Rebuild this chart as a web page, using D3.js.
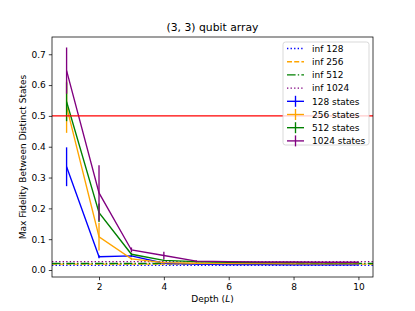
<!DOCTYPE html>
<html>
<head>
<meta charset="utf-8">
<script src="https://cdn.jsdelivr.net/npm/d3@7"></script>
<style>
  body { margin: 0; background: #fff; }
  text { font-family: "DejaVu Sans", sans-serif; }
</style>
</head>
<body>
<script>
// depths on the x axis
const depths = [1, 2, 3, 4, 5, 6, 7, 8, 9, 10];

// mean max fidelity per depth, one array per state count
const states128 = [0.335, 0.043, 0.046, 0.022, 0.019, 0.018, 0.018, 0.017, 0.017, 0.017];
const states256 = [0.530, 0.108, 0.036, 0.024, 0.022, 0.021, 0.021, 0.020, 0.020, 0.020];
const states512 = [0.546, 0.186, 0.051, 0.031, 0.027, 0.025, 0.024, 0.024, 0.023, 0.023];
const states1024 = [0.647, 0.250, 0.065, 0.047, 0.029, 0.027, 0.026, 0.026, 0.025, 0.025];

// error bar half widths
const err128 = [0.063, 0.005, 0.003, 0.002, 0.002, 0.001, 0.001, 0.001, 0.001, 0.001];
const err256 = [0.085, 0.045, 0.004, 0.003, 0.002, 0.001, 0.001, 0.001, 0.001, 0.001];
const err512 = [0.063, 0.030, 0.004, 0.003, 0.002, 0.001, 0.001, 0.001, 0.001, 0.001];
const err1024 = [0.075, 0.090, 0.008, 0.012, 0.003, 0.002, 0.001, 0.001, 0.001, 0.001];

// infinite-depth reference levels
const infLabels = ["inf 128", "inf 256", "inf 512", "inf 1024"];
const infValues = [0.015, 0.019, 0.021, 0.027];

const seriesLabels = ["128 states", "256 states", "512 states", "1024 states"];
const threshold = 0.5;

const xTicks = [2, 4, 6, 8, 10];
const yTicks = [0.0, 0.1, 0.2, 0.3, 0.4, 0.5, 0.6, 0.7];

const colors = ["blue", "orange", "green", "purple"];
const dashes = ["1.35,2.2", "5,2.2", "8.6,2.2,1.35,2.2", "1.35,2.2"];

const width = 415;
const height = 311;
const margin = { left: 52, right: 42, top: 37, bottom: 34 };

const x = d3.scaleLinear()
  .domain([0.55, 10.45])
  .range([margin.left, width - margin.right]);

const y = d3.scaleLinear()
  .domain([-0.0227, 0.756])
  .range([height - margin.bottom, margin.top]);

const svg = d3.select("body").append("svg")
  .attr("width", width)
  .attr("height", height);

const plot = svg.append("g");
plot.append("clipPath").attr("id", "clip")
  .append("rect")
  .attr("x", margin.left).attr("y", margin.top)
  .attr("width", width - margin.left - margin.right)
  .attr("height", height - margin.top - margin.bottom);

const inner = plot.append("g").attr("clip-path", "url(#clip)");

// inf lines
inner.selectAll("line.inf")
  .data(infValues)
  .enter()
  .append("line")
  .attr("class", "inf")
  .attr("x1", x(0.55)).attr("x2", x(10.45))
  .attr("y1", d => y(d)).attr("y2", d => y(d))
  .attr("stroke", (d, i) => colors[i])
  .attr("stroke-width", 1.35)
  .attr("stroke-dasharray", (d, i) => dashes[i]);

// series with error bars
const allSeries = [states128, states256, states512, states1024];
const allErr = [err128, err256, err512, err1024];

const line = d3.line()
  .x((d, i) => x(depths[i]))
  .y(d => y(d));

allSeries.forEach(function (vals, s) {
  const g = inner.append("g");
  g.append("path")
    .datum(vals)
    .attr("d", line)
    .attr("fill", "none")
    .attr("stroke", colors[s])
    .attr("stroke-width", 1.35);
  g.selectAll("line")
    .data(vals)
    .enter()
    .append("line")
    .attr("x1", (d, i) => x(depths[i]))
    .attr("x2", (d, i) => x(depths[i]))
    .attr("y1", (d, i) => y(d - allErr[s][i]))
    .attr("y2", (d, i) => y(d + allErr[s][i]))
    .attr("stroke", colors[s])
    .attr("stroke-width", 1.35);
});

// threshold line
inner.append("line")
  .attr("x1", x(0.55)).attr("x2", x(10.45))
  .attr("y1", y(threshold)).attr("y2", y(threshold))
  .attr("stroke", "red")
  .attr("stroke-width", 1.35);

// axes
const xAxis = svg.append("g")
  .attr("transform", "translate(0," + (height - margin.bottom) + ")")
  .call(d3.axisBottom(x).tickValues(xTicks).tickSize(3.2).tickPadding(3).tickFormat(d3.format("d")));
const yAxis = svg.append("g")
  .attr("transform", "translate(" + margin.left + ",0)")
  .call(d3.axisLeft(y).tickValues(yTicks).tickSize(3.2).tickPadding(3).tickFormat(d3.format(".1f")));

[xAxis, yAxis].forEach(function (a) {
  a.select(".domain").remove();
  a.selectAll("text").attr("font-size", 9).attr("fill", "#000")
    .style("font-family", "DejaVu Sans, sans-serif");
  a.selectAll("line").attr("stroke", "#000").attr("stroke-width", 0.75);
});

svg.append("rect")
  .attr("x", margin.left).attr("y", margin.top)
  .attr("width", width - margin.left - margin.right)
  .attr("height", height - margin.top - margin.bottom)
  .attr("fill", "none")
  .attr("stroke", "#000")
  .attr("stroke-width", 0.75);

// title and labels
svg.append("text")
  .attr("x", (margin.left + width - margin.right) / 2)
  .attr("y", 31)
  .attr("text-anchor", "middle")
  .attr("font-size", 10.8)
  .text("(3, 3) qubit array");

const xl = svg.append("text")
  .attr("x", (margin.left + width - margin.right) / 2)
  .attr("y", 302)
  .attr("text-anchor", "middle")
  .attr("font-size", 9);
xl.append("tspan").text("Depth (");
xl.append("tspan").attr("font-style", "italic").text("L");
xl.append("tspan").text(")");

svg.append("text")
  .attr("transform", "translate(26," + ((margin.top + height - margin.bottom) / 2) + ") rotate(-90)")
  .attr("text-anchor", "middle")
  .attr("font-size", 9)
  .text("Max Fidelity Between Distinct States");

// legend
const lg = svg.append("g").attr("transform", "translate(283,42)");
lg.append("rect")
  .attr("width", 86).attr("height", 103)
  .attr("rx", 2.5)
  .attr("fill", "#fff").attr("fill-opacity", 0.8)
  .attr("stroke", "#ccc").attr("stroke-width", 0.75);

const entries = infLabels.map((t, i) => ({ label: t, kind: "inf", i: i }))
  .concat(seriesLabels.map((t, i) => ({ label: t, kind: "series", i: i })));

const rows = lg.selectAll("g.row")
  .data(entries)
  .enter()
  .append("g")
  .attr("class", "row")
  .attr("transform", (d, k) => "translate(0," + (6.5 + k * 13.2) + ")");

rows.append("line")
  .attr("x1", 4).attr("x2", 21)
  .attr("y1", 0).attr("y2", 0)
  .attr("stroke", d => colors[d.i])
  .attr("stroke-width", 1.35)
  .attr("stroke-dasharray", d => d.kind === "inf" ? dashes[d.i] : null);

rows.filter(d => d.kind === "series")
  .append("line")
  .attr("x1", 12.5).attr("x2", 12.5)
  .attr("y1", -5.5).attr("y2", 5.5)
  .attr("stroke", d => colors[d.i])
  .attr("stroke-width", 1.35);

rows.append("text")
  .attr("x", 29).attr("y", 3.2)
  .attr("font-size", 9)
  .text(d => d.label);
</script>
</body>
</html>
